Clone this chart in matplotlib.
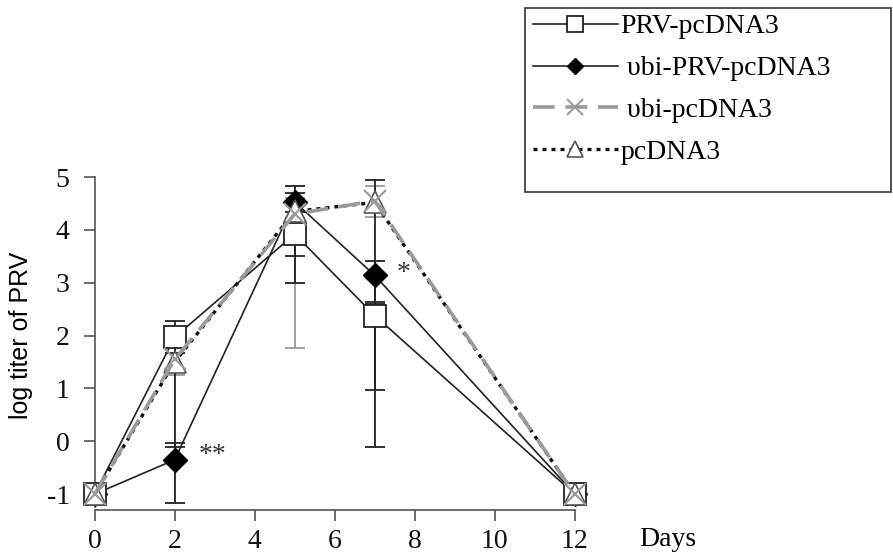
import numpy as np
import matplotlib
matplotlib.use('Agg')
import matplotlib.pyplot as plt
from matplotlib.patches import Rectangle

plt.rcParams['font.family'] = ['Liberation Serif', 'DejaVu Serif']
plt.rcParams['axes.unicode_minus'] = False

# data
days = [0, 2, 5, 7, 12]
labels = ['PRV-pcDNA3', ' \u03c5bi-PRV-pcDNA3', ' \u03c5bi-pcDNA3', 'pcDNA3']

prv = [-1, 1.97, 3.92, 2.38, -1]
prv_lo = [0, 0.30, 0.42, 1.40, 0]
prv_hi = [0, 0.30, 0.42, 0.25, 0]

ubi_prv = [-1, -0.35, 4.53, 3.14, -1]
ubi_prv_lo = [0, 0.82, 0.30, 0.55, 0]
ubi_prv_hi = [0, 0.32, 0.30, 0.28, 0]

ubi = [-1, 1.55, 4.30, 4.55, -1]
ubi_lo = [0, 0.30, 2.54, 0.30, 0]
ubi_hi = [0, 0.30, 0.30, 0.29, 0]

pc = [-1, 1.50, 4.35, 4.52, -1]
pc_lo = [0, 1.60, 1.36, 4.63, 0]
pc_hi = [0, 0.30, 0.34, 0.43, 0]

fig = plt.figure(figsize=(8.93, 5.54), dpi=100)
ax = fig.add_axes([0.106, 0.0794, 0.551, 0.601])

gray = '#9a9a9a'

def ebar(y, lo, hi, color):
    ax.errorbar(days[1:-1], y[1:-1], yerr=[lo[1:-1], hi[1:-1]], fmt='none',
                ecolor=color, elinewidth=1.3, capsize=7, capthick=1.3,
                clip_on=False, zorder=2)

ebar(ubi, ubi_lo, ubi_hi, gray)
ebar(pc, pc_lo, pc_hi, '#222222')
ebar(prv, prv_lo, prv_hi, '#222222')
ebar(ubi_prv, ubi_prv_lo, ubi_prv_hi, '#222222')

# drawing order as in the original: diamonds, squares, triangles, crosses
h2, = ax.plot(days, ubi_prv, '-', color='#222222', lw=1.2, marker='D', ms=12,
              mfc='black', mec='black', clip_on=False, zorder=3,
              label=labels[1])
h1, = ax.plot(days, prv, '-', color='#222222', lw=1.2, marker='s', ms=16,
              mfc='white', mec='#222222', mew=1.3, clip_on=False, zorder=4,
              label=labels[0])
h4, = ax.plot(days, pc, linestyle=(0, (1.2, 1.5)), color='#111111', lw=2.4,
              marker='^', ms=16, mfc='white', mec='#555555', mew=1.2,
              clip_on=False, zorder=4.5, label=labels[3])
h3, = ax.plot(days, ubi, linestyle=(0, (6, 3)), color=gray, lw=2.6,
              marker='x', ms=16, mec=gray, mew=1.5, clip_on=False, zorder=5,
              label=labels[2])

ax.text(2.6, -0.27, '**', fontsize=20, color='#333333', va='center', ha='left')
ax.text(7.55, 3.17, '*', fontsize=20, color='#333333', va='center', ha='left')
ax.text(13.6, -1.62, 'Days', fontsize=20, va='top', ha='left', clip_on=False)

ax.set_xlim(0, 12.3)
ax.set_ylim(-1.3, 5)
ax.set_xticks([0, 2, 4, 6, 8, 10, 12])
ax.set_yticks([-1, 0, 1, 2, 3, 4, 5])
for s in ['top', 'right']:
    ax.spines[s].set_visible(False)
ax.spines['left'].set_bounds(-1.25, 5)
ax.spines['bottom'].set_bounds(0, 12)
for s in ['left', 'bottom']:
    ax.spines[s].set_color('#555555')
    ax.spines[s].set_linewidth(1.2)
ax.tick_params(axis='both', colors='#555555', labelcolor='#111111',
               labelsize=20, length=8, width=1.2)
ax.tick_params(axis='y', pad=10)
ax.tick_params(axis='x', pad=6)

ax.set_ylabel('log titer of PRV', fontsize=18, family=['Liberation Sans'])
ax.yaxis.set_label_coords(-0.126, 0.525)

# legend box drawn separately so the padding matches the original
fig.patches.append(Rectangle((525 / 893, 1 - 192 / 554), 366 / 893, 184 / 554,
                             transform=fig.transFigure, fill=False,
                             edgecolor='#333333', lw=1.2))
ax.legend(handles=[h1, h2, h3, h4], loc='upper left',
          bbox_to_anchor=(533 / 893, 1 - 14 / 554),
          bbox_transform=fig.transFigure, frameon=False,
          fontsize=20, handlelength=3.05, handletextpad=0.1,
          labelspacing=0.59, borderpad=0, borderaxespad=0, markerscale=0.7)

fig.savefig('out.png', dpi=100)
